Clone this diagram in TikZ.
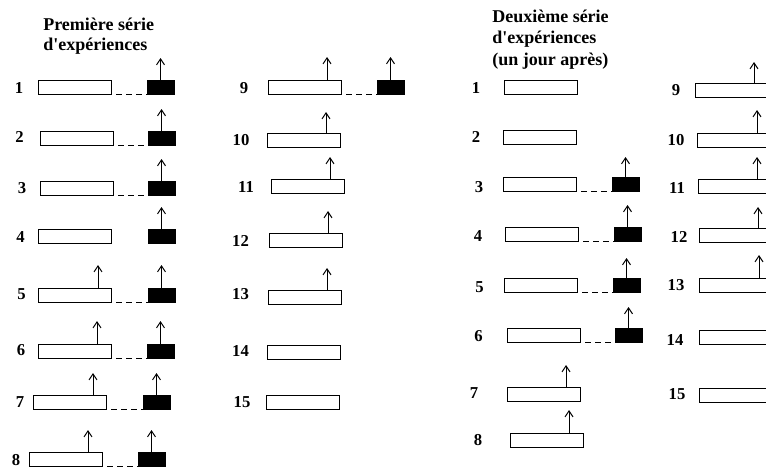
\documentclass[tikz,border=0pt]{standalone}
\usepackage{fontspec}
\setmainfont{Liberation Serif}
\usetikzlibrary{arrows.meta}
\begin{document}
\begin{tikzpicture}[x=0.75pt,y=-0.75pt,
  wbox/.style={draw, fill=white, line width=0.75pt, minimum width=54.75pt, minimum height=10.5pt, inner sep=0pt, outer sep=0pt, anchor=north west},
  bbox/.style={wbox, fill=black, minimum width=20.25pt},
  arr/.style={line width=0.75pt, -{Straight Barb[length=4.5pt,width=6pt]}},
  dashline/.style={line width=0.75pt, dash pattern=on 4pt off 3.5pt, dash phase=3.5pt},
  num/.style={font=\fontsize{12.5}{14}\selectfont\bfseries, inner sep=0pt},
  ttl/.style={font=\fontsize{13.5}{16}\selectfont\bfseries, inner sep=0pt, anchor=base west}]
\useasboundingbox (0,0) rectangle (766,468);
\clip (0,0) rectangle (766,468);

% titles
\node[ttl] (t1a) at (43,30) {Première série};
\node[ttl] (t1b) at (43,50) {d\textquotesingle expériences};
\node[ttl] (t2a) at (492,22) {Deuxième série};
\node[ttl] (t2b) at (492,43.5) {d\textquotesingle expériences};
\node[ttl] (t2c) at (492,65) {(un jour après)};

% ---------- first series, rows 1-8 ----------
\node[num] (l1) at (19,88) {1};
\node[wbox] (b1) at (38,80) {};
\node[bbox] (k1) at (147,80) {};
\draw[dashline] (b1.south east) -- (k1.south west);
\coordinate (q1) at (160,58);
\draw[arr] (k1.north) -- (k1.north |- q1);

\node[num] (l2) at (19.5,137) {2};
\node[wbox] (b2) at (40,131) {};
\node[bbox] (k2) at (148,131) {};
\draw[dashline] (b2.south east) -- (k2.south west);
\coordinate (q2) at (160,109);
\draw[arr] (k2.north) -- (k2.north |- q2);

\node[num] (l3) at (22,188) {3};
\node[wbox] (b3) at (40,181) {};
\node[bbox] (k3) at (148,181) {};
\draw[dashline] (b3.south east) -- (k3.south west);
\coordinate (q3) at (160,159);
\draw[arr] (k3.north) -- (k3.north |- q3);

\node[num] (l4) at (20.5,237) {4};
\node[wbox] (b4) at (38,229) {};
\node[bbox] (k4) at (148,229) {};
\coordinate (q4) at (160,207);
\draw[arr] (k4.north) -- (k4.north |- q4);

\node[num] (l5) at (21.5,294) {5};
\node[wbox] (b5) at (38,288) {};
\node[bbox] (k5) at (148,288) {};
\draw[dashline] (b5.south east) -- (k5.south west);
\coordinate (p5) at (98,265);
\draw[arr] (p5 |- b5.north) -- (p5);
\draw[arr] (k5.north) -- (k5.north |- p5);

\node[num] (l6) at (21,350) {6};
\node[wbox] (b6) at (38,344) {};
\node[bbox] (k6) at (147,344) {};
\draw[dashline] (b6.south east) -- (k6.south west);
\coordinate (p6) at (97,321);
\draw[arr] (p6 |- b6.north) -- (p6);
\draw[arr] (k6.north) -- (k6.north |- p6);

\node[num] (l7) at (20,402) {7};
\node[wbox] (b7) at (33,395) {};
\node[bbox] (k7) at (143,395) {};
\draw[dashline] (b7.south east) -- (k7.south west);
\coordinate (p7) at (93,373);
\draw[arr] (p7 |- b7.north) -- (p7);
\draw[arr] (k7.north) -- (k7.north |- p7);

\node[num] (l8) at (16,460.5) {8};
\node[wbox] (b8) at (29,452) {};
\node[bbox] (k8) at (138,452) {};
\draw[dashline] (b8.south east) -- (k8.south west);
\coordinate (p8) at (88,430);
\draw[arr] (p8 |- b8.north) -- (p8);
\draw[arr] (k8.north) -- (k8.north |- p8);

% ---------- first series, rows 9-15 ----------
\node[num] (l9) at (244,88) {9};
\node[wbox] (b9) at (268,80) {};
\node[bbox] (k9) at (377,80) {};
\draw[dashline] (b9.south east) -- (k9.south west);
\coordinate (p9) at (327,57);
\draw[arr] (p9 |- b9.north) -- (p9);
\draw[arr] (k9.north) -- (k9.north |- p9);

\node[num] (l10) at (241,140) {10};
\node[wbox] (b10) at (267,133) {};
\coordinate (p10) at (326,112);
\draw[arr] (p10 |- b10.north) -- (p10);

\node[num] (l11) at (246,187) {11};
\node[wbox] (b11) at (271,179) {};
\coordinate (p11) at (330,157);
\draw[arr] (p11 |- b11.north) -- (p11);

\node[num] (l12) at (240.5,241) {12};
\node[wbox] (b12) at (269,233) {};
\coordinate (p12) at (328,211);
\draw[arr] (p12 |- b12.north) -- (p12);

\node[num] (l13) at (240.5,294) {13};
\node[wbox] (b13) at (268,290) {};
\coordinate (p13) at (327,268);
\draw[arr] (p13 |- b13.north) -- (p13);

\node[num] (l14) at (240.5,351) {14};
\node[wbox] (b14) at (267,345) {};

\node[num] (l15) at (242,402) {15};
\node[wbox] (b15) at (266,395) {};

% ---------- second series, rows 1-8 ----------
\node[num] (m1l) at (476,88) {1};
\node[wbox] (c1) at (504,80) {};

\node[num] (m2l) at (476,137) {2};
\node[wbox] (c2) at (503,130) {};

\node[num] (m3l) at (479,187) {3};
\node[wbox] (c3) at (503,177) {};
\node[bbox] (n3) at (612,177) {};
\draw[dashline] (c3.south east) -- (n3.south west);
\coordinate (r3) at (624,157);
\draw[arr] (n3.north) -- (n3.north |- r3);

\node[num] (m4l) at (478,236) {4};
\node[wbox] (c4) at (505,227) {};
\node[bbox] (n4) at (614,227) {};
\draw[dashline] (c4.south east) -- (n4.south west);
\coordinate (r4) at (627,205);
\draw[arr] (n4.north) -- (n4.north |- r4);

\node[num] (m5l) at (479.5,287) {5};
\node[wbox] (c5) at (504,278) {};
\node[bbox] (n5) at (613,278) {};
\draw[dashline] (c5.south east) -- (n5.south west);
\coordinate (r5) at (626,258);
\draw[arr] (n5.north) -- (n5.north |- r5);

\node[num] (m6l) at (478.5,336) {6};
\node[wbox] (c6) at (507,328) {};
\node[bbox] (n6) at (615,328) {};
\draw[dashline] (c6.south east) -- (n6.south west);
\coordinate (r6) at (628,307);
\draw[arr] (n6.north) -- (n6.north |- r6);

\node[num] (m7l) at (474,393) {7};
\node[wbox] (c7) at (507,387) {};
\coordinate (r7) at (566,365);
\draw[arr] (r7 |- c7.north) -- (r7);

\node[num] (m8l) at (478,440) {8};
\node[wbox] (c8) at (510,433) {};
\coordinate (r8) at (569,410);
\draw[arr] (r8 |- c8.north) -- (r8);

% ---------- second series, rows 9-15 ----------
\node[num] (m9l) at (676,90) {9};
\node[wbox] (d9) at (695,83) {};
\coordinate (s9) at (754,62);
\draw[arr] (s9 |- d9.north) -- (s9);

\node[num] (m10l) at (676,140) {10};
\node[wbox] (d10) at (697,133) {};
\coordinate (s10) at (757,110);
\draw[arr] (s10 |- d10.north) -- (s10);

\node[num] (m11l) at (677,188) {11};
\node[wbox] (d11) at (698,179) {};
\coordinate (s11) at (757,157);
\draw[arr] (s11 |- d11.north) -- (s11);

\node[num] (m12l) at (679,237) {12};
\node[wbox] (d12) at (699,228) {};
\coordinate (s12) at (758,207);
\draw[arr] (s12 |- d12.north) -- (s12);

\node[num] (m13l) at (676,285) {13};
\node[wbox] (d13) at (699,278) {};
\coordinate (s13) at (759,255);
\draw[arr] (s13 |- d13.north) -- (s13);

\node[num] (m14l) at (675,340) {14};
\node[wbox] (d14) at (699,330) {};

\node[num] (m15l) at (677,394) {15};
\node[wbox] (d15) at (699,388) {};
\end{tikzpicture}
\end{document}
